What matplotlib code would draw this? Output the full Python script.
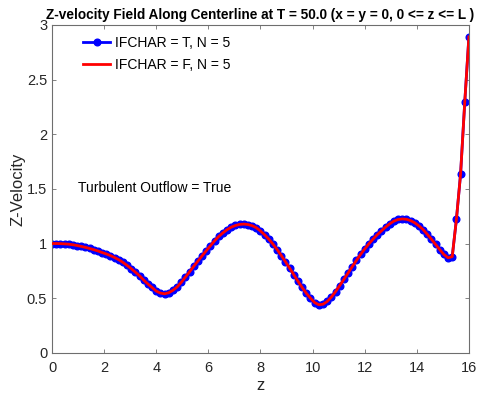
import numpy as np
import matplotlib

matplotlib.use("Agg")
import matplotlib.pyplot as plt
from matplotlib.ticker import FormatStrFormatter

plt.rcParams["font.family"] = ["Liberation Sans", "DejaVu Sans"]

# centerline grid, 101 nodes on 0 <= z <= 16
z = np.linspace(0, 16, 101)

# Z-velocity (both runs overlap)
w_ifchar_t = [
    1.000, 1.000, 0.999, 0.997, 0.994, 0.989, 0.982, 0.974, 0.965, 0.955,
    0.944, 0.932, 0.918, 0.905, 0.890, 0.872, 0.852, 0.828, 0.800, 0.770,
    0.738, 0.705, 0.665, 0.630, 0.598, 0.565, 0.547, 0.540, 0.550, 0.572,
    0.603, 0.645, 0.693, 0.742, 0.792, 0.840, 0.888, 0.935, 0.980, 1.025,
    1.065, 1.098, 1.127, 1.150, 1.165, 1.175, 1.178, 1.174, 1.163, 1.145,
    1.115, 1.080, 1.040, 0.995, 0.945, 0.890, 0.833, 0.775, 0.715, 0.655,
    0.598, 0.545, 0.500, 0.460, 0.440, 0.445, 0.470, 0.510, 0.560, 0.615,
    0.672, 0.730, 0.788, 0.845, 0.900, 0.950, 0.997, 1.040, 1.080, 1.115,
    1.150, 1.180, 1.205, 1.220, 1.225, 1.222, 1.210, 1.190, 1.162, 1.128,
    1.085, 1.040, 0.992, 0.945, 0.900, 0.870, 0.880, 1.220, 1.635, 2.290,
    2.890,
]
w_ifchar_f = list(w_ifchar_t)

labels = ["IFCHAR = T, N = 5", "IFCHAR = F, N = 5"]
x_ticks = [0, 2, 4, 6, 8, 10, 12, 14, 16]
y_ticks = [0, 0.5, 1, 1.5, 2, 2.5, 3]

text_col = "#262626"
axis_col = "#6e6e6e"

fig = plt.figure(figsize=(4.91, 4.01), dpi=100)
ax = fig.add_axes([0.106, 0.12, 0.849, 0.818])

ax.plot(z, w_ifchar_t, "-o", color="#0000ff", lw=2, ms=4.8,
        mfc="#0000ff", mec="#0000ff", label=labels[0], zorder=2)
ax.plot(z, w_ifchar_f, "-", color="#ff0000", lw=2, label=labels[1], zorder=3)

ax.set_xlim(0, 16)
ax.set_ylim(0, 3)
ax.set_xticks(x_ticks)
ax.set_yticks(y_ticks)
ax.yaxis.set_major_formatter(FormatStrFormatter("%g"))
ax.tick_params(direction="in", length=3, width=0.6, colors=axis_col,
               labelcolor=text_col, labelsize=10.5, top=True, right=True)
ax.tick_params(axis="x", pad=6)
for sp in ax.spines.values():
    sp.set_color(axis_col)
    sp.set_linewidth(0.8)

ax.set_xlabel("z", fontsize=12, color=text_col, labelpad=2)
ax.set_ylabel("Z-Velocity", fontsize=12, color=text_col, labelpad=1)
ax.set_title("Z-velocity Field Along Centerline at T = 50.0 (x = y = 0, 0 <= z <= L )",
             fontsize=9.8, fontweight="bold", color="black", pad=4)

ax.text(1.0, 1.51, "Turbulent Outflow = True", fontsize=10, color="black",
        va="center", ha="left")

ax.legend(loc="upper left", frameon=False, fontsize=10, handlelength=2.0,
          handletextpad=0.3, borderaxespad=0.3, labelspacing=0.55,
          bbox_to_anchor=(0.05, 0.995))

fig.savefig("out.png", dpi=100)
